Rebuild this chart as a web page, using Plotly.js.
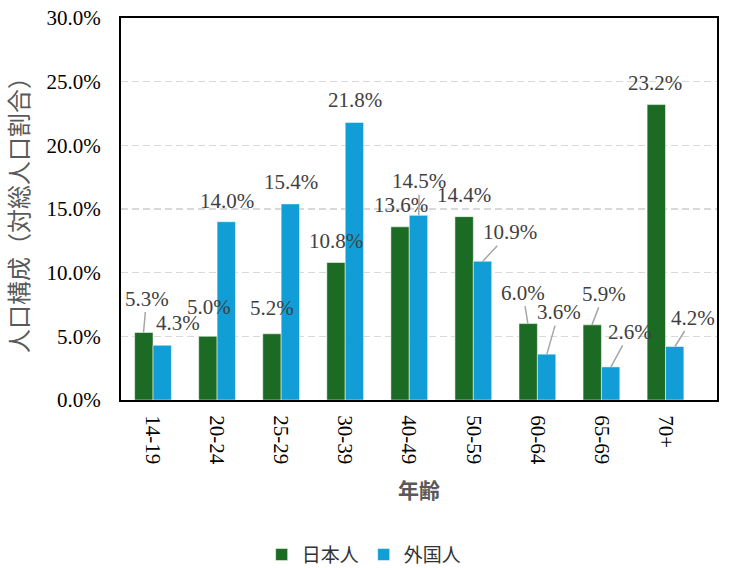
<!DOCTYPE html>
<html>
<head>
<meta charset="utf-8">
<script src="https://cdn.plot.ly/plotly-3.0.1.min.js"></script>
<style>html,body{margin:0;padding:0;background:#fff;}#chart{width:734px;height:568px;}</style>
</head>
<body>
<div id="chart"></div>
<script>
// ---- data ----
var ageGroups = ['14-19','20-24','25-29','30-39','40-49','50-59','60-64','65-69','70+'];
var japanese = [5.3, 5.0, 5.2, 10.8, 13.6, 14.4, 6.0, 5.9, 23.2];
var foreign  = [4.3, 14.0, 15.4, 21.8, 14.5, 10.9, 3.6, 2.6, 4.2];
var seriesNames = ['日本人', '外国人'];

// ---- label placement (pixel offsets from bar top: dx, dy, leader line) ----
var jpLabelPos = [[3,-34,true],[1,-29,false],[0,-26,false],[0,-21,false],[1,-22,false],[0,-22,false],[-5,-31,true],[12,-31,true],[-1,-22,false]];
var fgLabelPos = [[15,-22,false],[0,-21,false],[0,-22,false],[0,-22,false],[0.5,-34,true],[27,-29,true],[12,-42,true],[19,-35,true],[18,-29,true]];

var serif = "Liberation Serif";
var cjk = "Noto Sans CJK JP";

var traces = [
  {type:'bar', name: seriesNames[0], x: ageGroups, y: japanese,
   marker:{color:'#1B6B24', line:{color:'rgba(255,255,255,0.5)', width:1}}, hoverinfo:'none'},
  {type:'bar', name: seriesNames[1], x: ageGroups, y: foreign,
   marker:{color:'#119ED6', line:{color:'rgba(255,255,255,0.5)', width:1}}, hoverinfo:'none'}
];

var halfBar = 9.5;
var annotations = [];
function addLabels(values, pos, shift){
  values.forEach(function(v, i){
    var p = pos[i];
    var a = {x: ageGroups[i], y: v, xref:'x', yref:'y', text: v.toFixed(1) + '%',
      font:{family: serif, size: 21, color:'#404040'}, xanchor:'center', yanchor:'middle'};
    if (p[2]) {
      a.showarrow = true; a.arrowhead = 0; a.arrowwidth = 1.5; a.arrowcolor = '#a6a6a6';
      a.ax = p[0]; a.ay = p[1]; a.axref = 'pixel'; a.ayref = 'pixel'; a.xshift = shift;
      a.standoff = 0; a.startstandoff = 0;
    } else {
      a.showarrow = false; a.xshift = shift + p[0]; a.yshift = -p[1];
    }
    annotations.push(a);
  });
}
addLabels(japanese, jpLabelPos, -halfBar);
addLabels(foreign, fgLabelPos, halfBar);

var layout = {
  width: 734, height: 568,
  margin: {l:121, r:17, t:18, b:168, autoexpand:false},
  paper_bgcolor:'#fff', plot_bgcolor:'#fff',
  barmode:'group', bargap:0.426, bargroupgap:0,
  showlegend:true,
  legend:{orientation:'h', x:0.408, y:-0.405, xanchor:'center', yanchor:'middle',
    font:{family: cjk, size:19, color:'#333333'}, itemwidth:30, traceorder:'normal'},
  xaxis:{type:'category', showgrid:false, ticks:'', tickangle:90, automargin:false,
    tickfont:{family: serif, size:21, color:'#000'},
    showline:true, linecolor:'#000', linewidth:2, mirror:true, ticklabelstandoff:9,
    title:{text:'年齢', font:{family: cjk, size:21, color:'#595959', weight:'bold'}, standoff:20}},
  yaxis:{range:[0,30], dtick:5, tick0:0, tickformat:'.1f', ticksuffix:'%', automargin:false,
    showgrid:true, gridcolor:'#d9d9d9', griddash:'7px,4px', gridwidth:1.5, zeroline:false,
    ticks:'', tickfont:{family: serif, size:21, color:'#000'}, ticklabelstandoff:14,
    showline:true, linecolor:'#000', linewidth:2, mirror:true,
    title:{text:'人口構成（対総人口割合）', font:{family: cjk, size:24, color:'#595959', weight:'normal'}, standoff:12}},
  annotations: annotations
};

Plotly.newPlot('chart', traces, layout, {staticPlot:true, displayModeBar:false});
</script>
</body>
</html>
